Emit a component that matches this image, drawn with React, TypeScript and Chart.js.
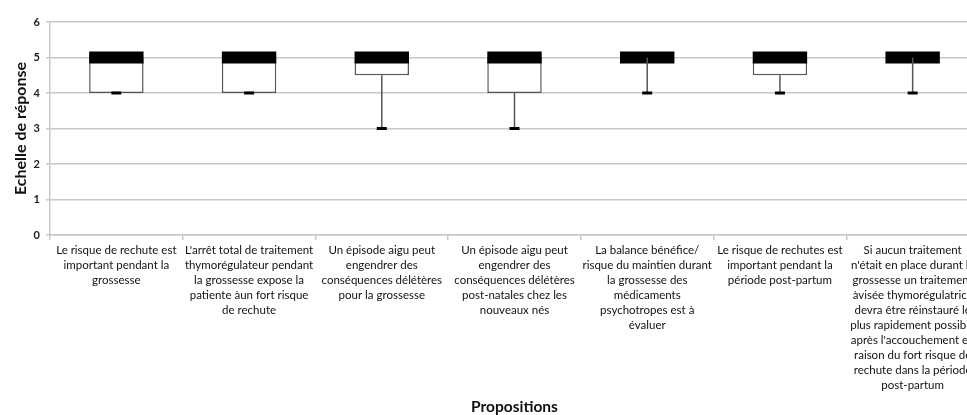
import React, { useEffect, useRef } from "react";
import { Chart, registerables } from "chart.js";

Chart.register(...registerables);

const categories: string[][] = [
  ["Le risque de rechute est", "important pendant la", "grossesse"],
  ["L'arrêt total de traitement", "thymorégulateur pendant", "la grossesse expose la", "patiente àun fort risque", "de rechute"],
  ["Un épisode aigu peut", "engendrer des", "conséquences délétères", "pour la grossesse"],
  ["Un épisode aigu peut", "engendrer des", "conséquences délétères", "post-natales chez les", "nouveaux nés"],
  ["La balance bénéfice/", "risque du maintien durant", "la grossesse des", "médicaments", "psychotropes est à", "évaluer"],
  ["Le risque de rechutes est", "important pendant la", "période post-partum"],
  ["Si aucun traitement", "n'était en place durant la", "grossesse un traitement", "àvisée thymorégulatrice", "devra être réinstauré le", "plus rapidement possible", "après l'accouchement en", "raison du fort risque de", "rechute dans la période", "post-partum"],
];

const minValues = [4, 4, 3, 3, 4, 4, 4];
const q1Values = [4, 4, 4.5, 4, 5, 4.5, 5];
const medianValues = [5, 5, 5, 5, 5, 5, 5];
const q3Values = [5, 5, 5, 5, 5, 5, 5];

const yTicks = [0, 1, 2, 3, 4, 5, 6];

const FONT = "Lato, 'Open Sans', sans-serif";
const BAND_HALF = 0.17;

export default function App() {
  const ref = useRef<HTMLCanvasElement | null>(null);

  useEffect(() => {
    if (!ref.current) return;

    const whiskerPlugin = {
      id: "whiskers",
      afterDatasetsDraw(chart: any) {
        const { ctx, scales } = chart;
        const xs = scales.x;
        const ys = scales.y;
        ctx.save();
        for (let i = 0; i < categories.length; i++) {
          const x = xs.getPixelForValue(i);
          const yMin = ys.getPixelForValue(minValues[i]);
          const yQ1 = ys.getPixelForValue(q1Values[i]);
          ctx.strokeStyle = "#555555";
          ctx.lineWidth = 1.5;
          ctx.beginPath();
          ctx.moveTo(x, yMin);
          ctx.lineTo(x, yQ1);
          ctx.stroke();
          ctx.fillStyle = "#000000";
          ctx.fillRect(x - 5, yMin - 1.5, 10, 3);
        }
        ctx.restore();
      },
    };

    const chart = new Chart(ref.current, {
      type: "bar",
      data: {
        labels: categories,
        datasets: [
          {
            label: "Médiane",
            data: medianValues.map((m) => [m - BAND_HALF, m + BAND_HALF]) as any,
            backgroundColor: "#000000",
            borderColor: "#000000",
            borderWidth: 0,
            barPercentage: 0.41,
            categoryPercentage: 1,
            grouped: false,
            order: 0,
          } as any,
          {
            label: "Boîte",
            data: q1Values.map((q, i) => (q < q3Values[i] ? [q, q3Values[i]] : null)) as any,
            backgroundColor: "#ffffff",
            borderColor: "#555555",
            borderWidth: 1.5,
            borderSkipped: false,
            barPercentage: 0.41,
            categoryPercentage: 1,
            grouped: false,
            order: 1,
          } as any,
        ],
      },
      options: {
        responsive: false,
        animation: false,
        layout: { padding: { top: 22, right: 11, left: 0, bottom: 0 } },
        plugins: {
          legend: { display: false },
          tooltip: { enabled: false },
        },
        scales: {
          x: {
            offset: true,
            grid: {
              offset: true,
              drawOnChartArea: false,
              drawTicks: true,
              tickLength: 5,
              color: "#c8c8c8",
              lineWidth: 1.5,
            },
            border: { color: "#c8c8c8", width: 1.5 },
            ticks: {
              autoSkip: false,
              maxRotation: 0,
              minRotation: 0,
              padding: 3,
              color: "#111111",
              font: { family: FONT, size: 11.5, lineHeight: 1.3 },
            },
            title: {
              display: true,
              text: "Propositions",
              color: "#111111",
              font: { family: FONT, size: 15.5, weight: "bold", lineHeight: 1 },
              padding: { top: 0, bottom: 0 },
            },
            afterFit(scale: any) {
              scale.height = 180;
            },
          },
          y: {
            min: 0,
            max: 6,
            afterBuildTicks(scale: any) {
              scale.ticks = yTicks.map((v) => ({ value: v }));
            },
            grid: {
              color: "#c8c8c8",
              lineWidth: 1.5,
              tickLength: 4,
            },
            border: { color: "#c8c8c8", width: 1.5 },
            ticks: {
              padding: 6,
              color: "#222222",
              font: { family: FONT, size: 11, weight: "bold" },
            },
            title: {
              display: true,
              text: "Echelle de réponse",
              color: "#111111",
              font: { family: FONT, size: 16, weight: "bold", lineHeight: 1.2 },
              padding: { top: 11, bottom: 0 },
            },
            afterFit(scale: any) {
              scale.width = 50;
            },
          },
        },
      },
      plugins: [whiskerPlugin],
    });

    return () => chart.destroy();
  }, []);

  return (
    <div
      style={{
        position: "fixed",
        left: 0,
        top: 0,
        width: 967,
        height: 415,
        overflow: "hidden",
        background: "#ffffff",
      }}
    >
      <canvas ref={ref} width={990} height={415} style={{ display: "block" }} />
    </div>
  );
}
